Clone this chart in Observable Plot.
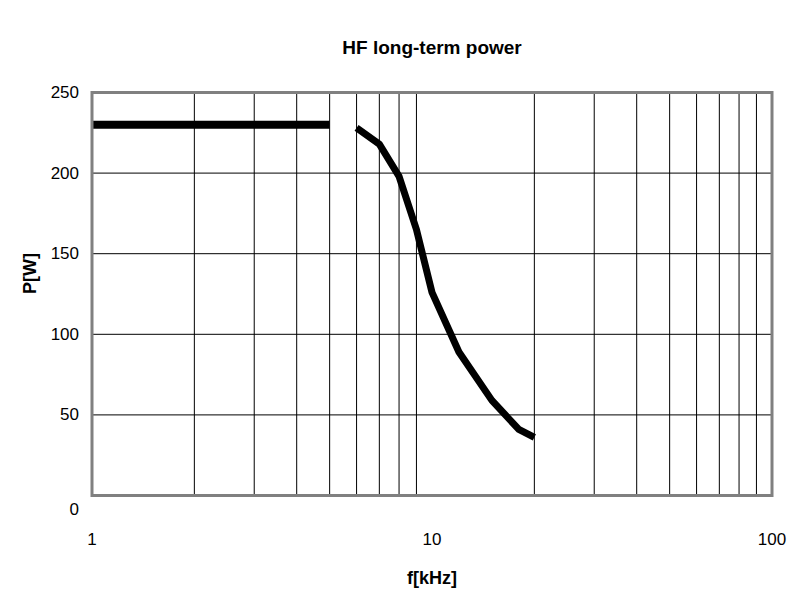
<!DOCTYPE html>
<html>
<head>
<meta charset="utf-8">
<script src="https://cdn.jsdelivr.net/npm/d3@7"></script>
<script src="https://cdn.jsdelivr.net/npm/@observablehq/plot@0.6"></script>
<style>
  html, body { margin: 0; padding: 0; background: #fff; }
  svg { font-family: "Liberation Sans", Arial, sans-serif; }
</style>
</head>
<body>
<div id="chart"></div>
<script>
const title = "HF long-term power";
const xLabel = "f[kHz]";
const yLabel = "P[W]";

// Flat segment (kHz, W)
const flatF = [1, 5];
const flatP = [230, 230];

// Falling curve (kHz, W)
const curveF = [6, 7, 8, 9, 10, 12, 15, 18, 20];
const curveP = [228, 218, 198, 165, 126, 89, 59, 41, 36];

const xTicks = [1, 10, 100];
const xGrid = [2, 3, 4, 5, 6, 7, 8, 9, 20, 30, 40, 50, 60, 70, 80, 90];
const yTicks = [50, 100, 150, 200, 250];
const yZero = [0];
const yGrid = [50, 100, 150, 200];

const flat = flatF.map((f, i) => ({f, p: flatP[i]}));
const curve = curveF.map((f, i) => ({f, p: curveP[i]}));

const chart = Plot.plot({
  width: 794,
  height: 593,
  marginLeft: 91.5,
  marginRight: 22.5,
  marginTop: 92,
  marginBottom: 98,
  style: {fontFamily: '"Liberation Sans", Arial, sans-serif', fontSize: "17px", background: "#fff", overflow: "visible"},
  x: {type: "log", domain: [1, 100]},
  y: {domain: [0, 250]},
  marks: [
    Plot.gridX(xGrid, {stroke: "#000", strokeOpacity: 1, strokeWidth: 1}),
    Plot.gridY(yGrid, {stroke: "#000", strokeOpacity: 1, strokeWidth: 1}),
    Plot.line(flat, {x: "f", y: "p", stroke: "#000", strokeWidth: 8, strokeLinecap: "butt"}),
    Plot.line(curve, {x: "f", y: "p", stroke: "#000", strokeWidth: 7, strokeLinecap: "butt", strokeLinejoin: "round"}),
    Plot.frame({stroke: "#808080", strokeWidth: 3}),
    Plot.axisX(xTicks, {tickSize: 0, tickPadding: 37, fill: "#000", label: null, tickFormat: d => String(d)}),
    Plot.axisY(yTicks, {tickSize: 0, tickPadding: 13, fill: "#000", label: null}),
    Plot.axisY(yZero, {tickSize: 0, tickPadding: 13, dy: 14, fill: "#000", label: null}),
    Plot.text([title], {frameAnchor: "top", dy: -52, fontSize: 19, fontWeight: "bold", fill: "#000"}),
    Plot.text([xLabel], {frameAnchor: "bottom", dy: 88, fontSize: 18, fontWeight: "bold", fill: "#000"}),
    Plot.text([yLabel], {frameAnchor: "left", dx: -62, rotate: -90, fontSize: 18, fontWeight: "bold", fill: "#000"})
  ]
});
document.getElementById("chart").appendChild(chart);
</script>
</body>
</html>
